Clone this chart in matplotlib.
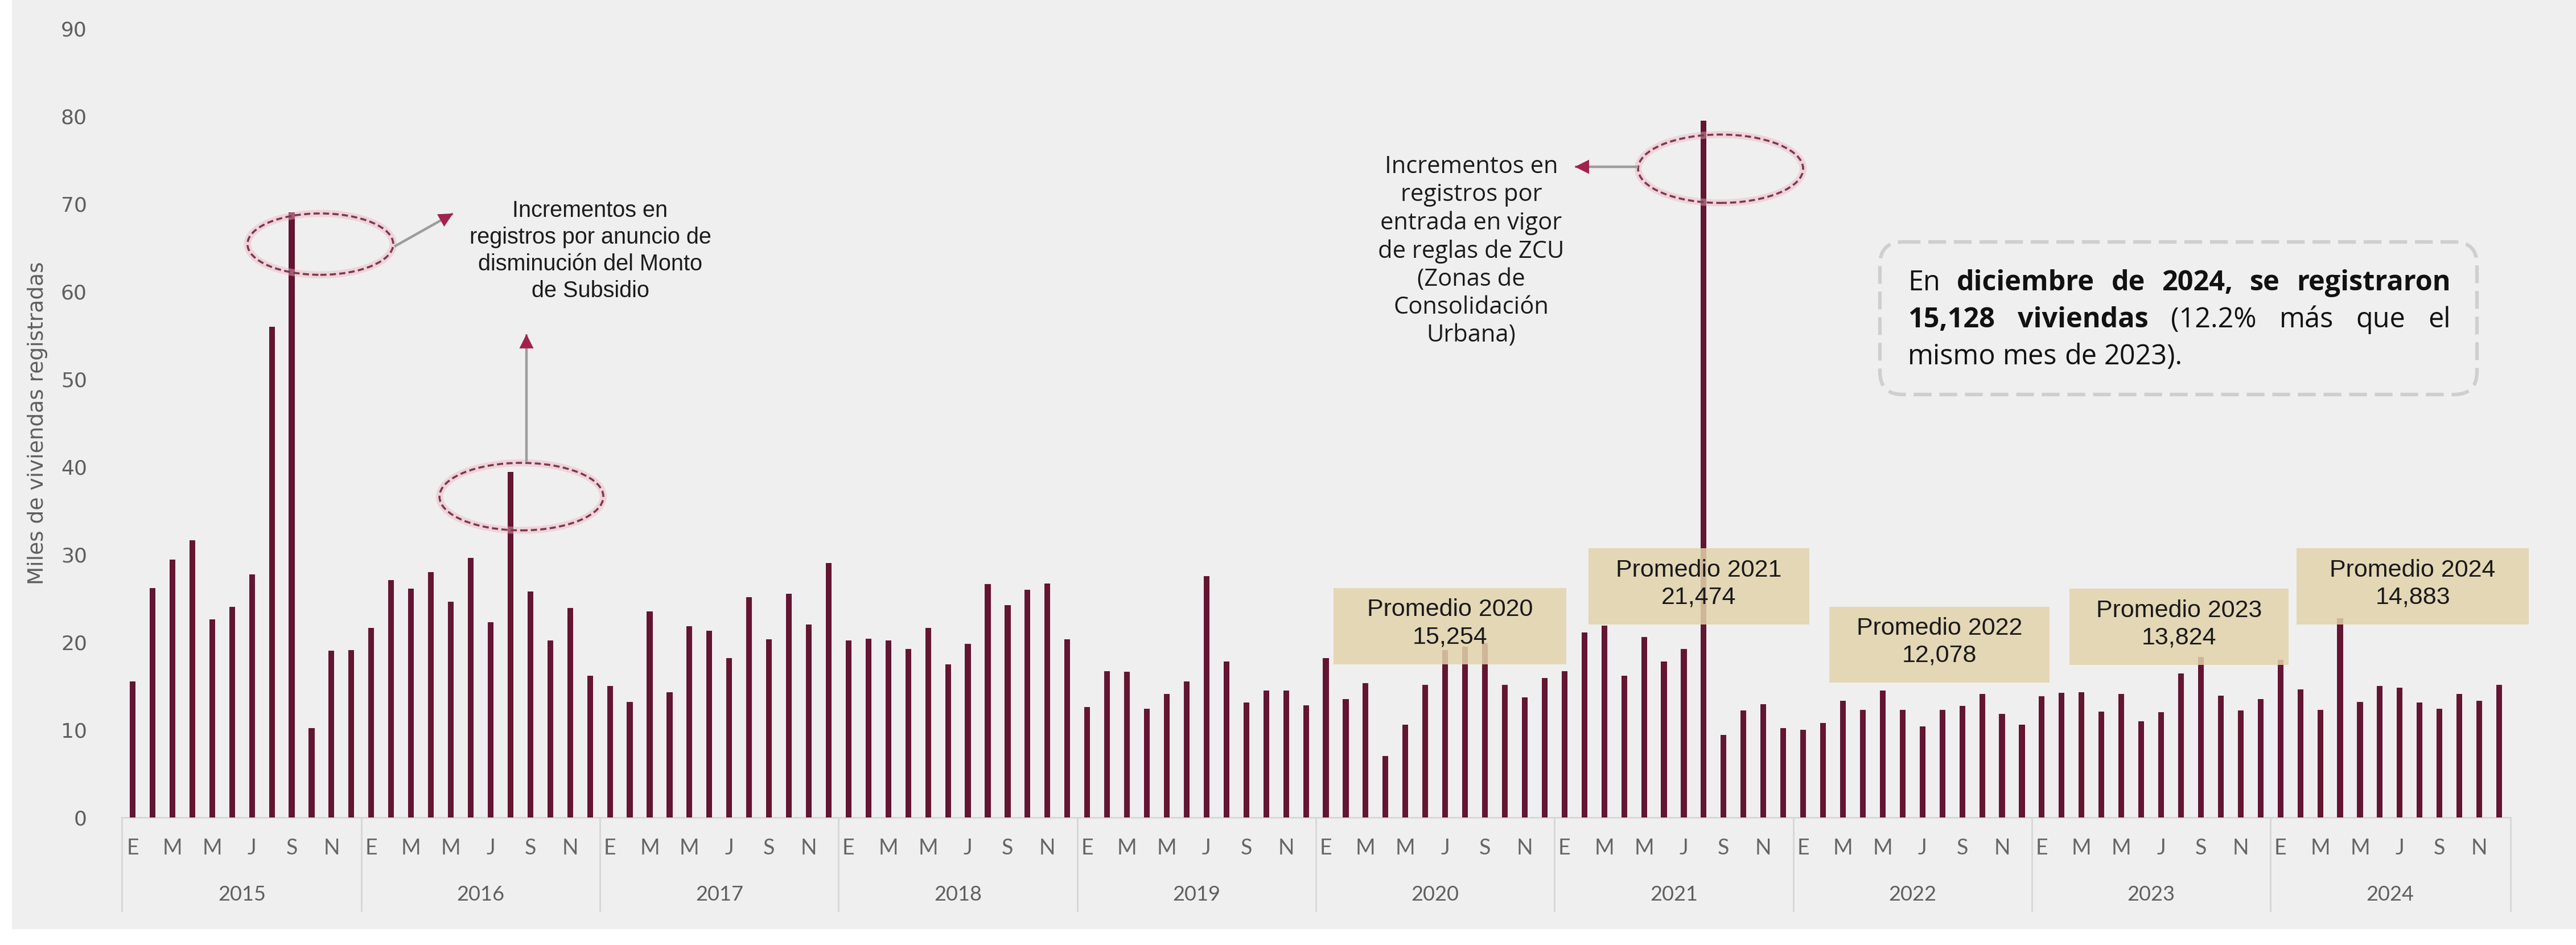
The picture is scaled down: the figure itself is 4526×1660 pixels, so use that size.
import matplotlib.pyplot as plt
import numpy as np
from matplotlib.patches import Ellipse, Rectangle, FancyBboxPatch

# viviendas registradas por mes (miles)
years = [2015, 2016, 2017, 2018, 2019, 2020, 2021, 2022, 2023, 2024]
month_letters = ["E", "", "M", "", "M", "", "J", "", "S", "", "N", ""]
v2015 = [15.5, 26.2, 29.4, 31.6, 22.6, 24.0, 27.7, 56.0, 69.0, 10.2, 19.0, 19.1]
v2016 = [21.6, 27.1, 26.1, 28.0, 24.6, 29.6, 22.3, 39.4, 25.8, 20.2, 23.9, 16.2]
v2017 = [15.0, 13.2, 23.5, 14.3, 21.8, 21.3, 18.2, 25.1, 20.3, 25.5, 22.0, 29.0]
v2018 = [20.2, 20.4, 20.2, 19.2, 21.6, 17.5, 19.8, 26.6, 24.2, 26.0, 26.7, 20.3]
v2019 = [12.6, 16.7, 16.6, 12.4, 14.1, 15.5, 27.5, 17.8, 13.1, 14.5, 14.5, 12.8]
v2020 = [18.2, 13.5, 15.3, 7.0, 10.6, 15.1, 19.1, 19.5, 19.9, 15.1, 13.7, 15.9]
v2021 = [16.7, 21.1, 21.9, 16.2, 20.6, 17.8, 19.2, 79.5, 9.4, 12.2, 12.9, 10.2]
v2022 = [10.0, 10.8, 13.3, 12.3, 14.5, 12.3, 10.4, 12.3, 12.7, 14.1, 11.8, 10.6]
v2023 = [13.8, 14.2, 14.3, 12.1, 14.1, 11.0, 12.0, 16.4, 18.3, 13.9, 12.2, 13.5]
v2024 = [18.0, 14.6, 12.3, 22.7, 13.2, 15.0, 14.8, 13.1, 12.4, 14.1, 13.3, 15.128]

prom_years = [2020, 2021, 2022, 2023, 2024]
prom_vals = [15254, 21474, 12078, 13824, 14883]

values = np.array(v2015 + v2016 + v2017 + v2018 + v2019 + v2020 + v2021 + v2022 + v2023 + v2024)
x = np.arange(len(values))

BAR = "#631532"
GREY_TXT = "#5f5f5f"
CRIMSON = "#a3214f"
TAN = "#e3d3ab"

W, H = 4526, 1660
fig = plt.figure(figsize=(W / 100, H / 100), dpi=100, facecolor="white")

# fondo gris
bg = fig.add_axes([0, 0, 1, 1], zorder=-5)
bg.set_xlim(0, W)
bg.set_ylim(H, 0)
bg.axis("off")
bg.add_patch(Rectangle((21, 0), W - 21, 1632, color="#efefef", lw=0))

ax = fig.add_axes([214 / W, (H - 1436) / H, (4411 - 214) / W, (1436 - 50) / H])
ax.patch.set_alpha(0)
ax.bar(x, values, width=0.29, color=BAR, zorder=3)
ax.set_xlim(-0.544, len(values) - 1 + 0.57)
ax.set_ylim(0, 90)
ax.set_yticks(range(0, 91, 10))
ax.tick_params(axis="y", length=0, labelsize=26, labelcolor=GREY_TXT, pad=44)
ax.set_xticks([])
for s in ["top", "right", "left"]:
    ax.spines[s].set_visible(False)
ax.spines["bottom"].set_color("#d6d6d6")
ax.spines["bottom"].set_linewidth(2)
ax.set_ylabel("Miles de viviendas registradas", fontsize=27, color=GREY_TXT,
              family=["Liberation Sans Narrow", "DejaVu Sans"], labelpad=4)
ax.yaxis.set_label_coords(-0.031, 0.5)

# eje de categorias: meses y años
xt = ax.get_xaxis_transform()
for i, v in enumerate(values):
    m = month_letters[i % 12]
    if m:
        ax.text(i, -0.039, m, transform=xt, ha="center", va="center",
                fontsize=27, color="#666666", family="Lato")
for k, yr in enumerate(years):
    ax.text(k * 12 + 5.5, -0.098, str(yr), transform=xt, ha="center", va="center",
            fontsize=26, color=GREY_TXT, family="Lato")
for k in range(len(years) + 1):
    xs = k * 12 - 0.5 if 0 < k < len(years) else (-0.544 if k == 0 else len(values) - 0.43)
    ax.plot([xs, xs], [0, -0.118], transform=xt, color="#d6d6d6", lw=2, clip_on=False)

# cuadros de promedio anual
prom_boxes = [(60.4, 72.1, 17.45, 26.2), (73.2, 84.3, 22.0, 30.7), (85.3, 96.4, 15.4, 24.05),
              (97.4, 108.4, 17.4, 26.1), (108.8, 120.5, 22.0, 30.7)]
for (x0, x1, y0, y1), yr, val in zip(prom_boxes, prom_years, prom_vals):
    ax.add_patch(Rectangle((x0, y0), x1 - x0, y1 - y0, facecolor=TAN, edgecolor="none",
                           alpha=0.85, zorder=4, clip_on=False))
    ax.text((x0 + x1) / 2, (y0 + y1) / 2 + 0.3, f"Promedio {yr}\n{val:,}", ha="center", va="center",
            fontsize=31, color="#1a1a1a", family="Liberation Sans", linespacing=1.25, zorder=5)

# elipses punteadas sobre los picos
for cx, cy, ew, eh in [(9.44, 65.4, 7.33, 7.0), (19.55, 36.6, 8.24, 7.7), (79.85, 74.0, 8.3, 7.8)]:
    ax.add_patch(Ellipse((cx, cy), ew, eh, fill=False, ec="#f0b3c4", lw=9, alpha=0.45,
                         zorder=5, clip_on=False))
    ax.add_patch(Ellipse((cx, cy), ew, eh, fill=False, ec="#7b3a4d", lw=2.6,
                         linestyle=(0, (3, 1.6)), zorder=6, clip_on=False))

# flechas (coordenadas en pixeles)
ov = fig.add_axes([0, 0, 1, 1], zorder=10)
ov.set_xlim(0, W)
ov.set_ylim(H, 0)
ov.axis("off")


def arrow(p0, p1):
    ov.plot([p0[0], p1[0]], [p0[1], p1[1]], color="#9d9d9d", lw=3.2, solid_capstyle="butt")
    d = np.array(p1) - np.array(p0)
    d = d / np.hypot(*d)
    tail = np.array(p1) - d * 30
    ov.annotate("", xy=p1, xytext=tail,
                arrowprops=dict(arrowstyle="-|>", color=CRIMSON, lw=0, mutation_scale=45,
                                shrinkA=0, shrinkB=0))


arrow((693, 433), (796, 375))
arrow((925, 812), (925, 587))
arrow((2878, 293), (2767, 293))

ov.text(1037, 440, "Incrementos en\nregistros por anuncio de\ndisminución del Monto\nde Subsidio",
        ha="center", va="center", fontsize=28.5, color="#1c1c1c", family="Liberation Sans",
        linespacing=1.3)
ov.text(2585, 441, "Incrementos en\nregistros por\nentrada en vigor\nde reglas de ZCU\n(Zonas de\nConsolidación\nUrbana)",
        ha="center", va="center", fontsize=30, color="#1c1c1c", family="Open Sans",
        linespacing=1.22)

# recuadro con el dato del mes
ov.add_patch(FancyBboxPatch((3303 + 40, 425 + 40), 4352 - 3303 - 80, 693 - 425 - 80,
                            boxstyle="round,pad=40", fill=False, ec="#cfcfcf", lw=4.5,
                            linestyle=(0, (5, 2.2))))

fig.canvas.draw()
rend = fig.canvas.get_renderer()
inv = ov.transData.inverted()


def text_line(words, y, x0, x1=None, size=35):
    items = []
    for w, bold in words:
        t = ov.text(x0, y, w, ha="left", va="center", fontsize=size, color="#111111",
                    family="Open Sans", fontweight="bold" if bold else "normal")
        bb = t.get_window_extent(rend)
        (a, _), (b, _) = inv.transform([[bb.x0, bb.y0], [bb.x1, bb.y0]])
        items.append((t, b - a))
    if x1 is None:
        gap = size * 0.36
    else:
        gap = (x1 - x0 - sum(w for _, w in items)) / (len(items) - 1)
    cur = x0
    for t, w in items:
        t.set_x(cur)
        cur += w + gap


text_line([("En", False), ("diciembre", True), ("de", True), ("2024,", True), ("se", True),
           ("registraron", True)], 497, 3352, 4306)
text_line([("15,128", True), ("viviendas", True), ("(12.2%", False), ("más", False),
           ("que", False), ("el", False)], 562, 3352, 4306)
text_line([("mismo", False), ("mes", False), ("de", False), ("2023).", False)], 627, 3352)

fig.savefig("out.png", dpi=100, facecolor="white")
